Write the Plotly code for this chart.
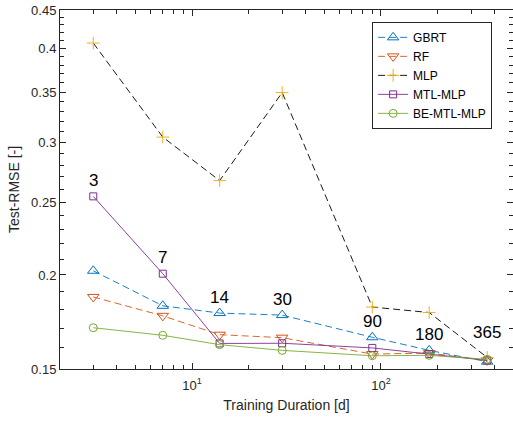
import numpy as np
import plotly.graph_objects as go

durations = [3, 7, 14, 30, 90, 180, 365]
gbrt = [0.2026, 0.182, 0.178, 0.1769, 0.1653, 0.1588, 0.1534]
rf = [0.187, 0.1765, 0.1666, 0.1651, 0.157, 0.1575, 0.154]
mlp = [0.4067, 0.305, 0.267, 0.3495, 0.1813, 0.1783, 0.1554]
mtl_mlp = [0.2544, 0.2008, 0.1622, 0.1623, 0.160, 0.157, 0.154]
be_mtl_mlp = [0.1702, 0.1663, 0.1616, 0.1588, 0.1562, 0.1564, 0.1545]
duration_labels = ["3", "7", "14", "30", "90", "180", "365"]

y_ticks = [0.15, 0.2, 0.25, 0.3, 0.35, 0.4, 0.45]
x_ticks = [10, 100]
x_ticktext = ["10<sup>1</sup>", "10<sup>2</sup>"]

FONT = "Liberation Sans, Arial, sans-serif"
TXT = "#262626"

series = [
    ("GBRT", gbrt, "#0072BD", "triangle-up-open", 10, "7px,4px"),
    ("RF", rf, "#D95319", "triangle-down-open", 10, "7px,4px"),
    ("MLP", mlp, "#000000", "cross-thin-open", 9, "7px,4px"),
    ("MTL-MLP", mtl_mlp, "#7E2F8E", "square-open", 7, "solid"),
    ("BE-MTL-MLP", be_mtl_mlp, "#77AC30", "circle-open", 8, "solid"),
]

fig = go.Figure()
for name, vals, col, sym, sz, dash in series:
    mcol = "#EDB120" if name == "MLP" else col
    fig.add_trace(go.Scatter(
        x=durations, y=vals, name=name, mode="lines+markers",
        line=dict(color=col, width=0.9, dash=dash),
        marker=dict(symbol=sym, size=sz, color=mcol,
                    line=dict(color=mcol, width=1)),
    ))

# duration labels above the cluster of non-MLP series
for i, lab in enumerate(duration_labels):
    top = max(gbrt[i], rf[i], mtl_mlp[i], be_mtl_mlp[i])
    shift = 27 if lab == "365" else 16
    fig.add_annotation(x=np.log10(durations[i]), y=np.log10(top), text=lab,
                       showarrow=False, yshift=shift,
                       font=dict(size=17, color="#000000", family=FONT))

x_minor = [v for d in (1, 10, 100) for v in [k * d for k in range(2, 10)]
           if 2 <= v <= 500 and v not in (10, 100)]
y_minor = [round(0.15 + 0.01 * k, 2) for k in range(31)]
y_minor = [v for v in y_minor if v not in y_ticks]

fig.update_layout(
    width=513, height=421,
    margin=dict(l=60, r=0, t=10, b=52),
    paper_bgcolor="white", plot_bgcolor="white",
    font=dict(family=FONT, size=13, color=TXT),
    showlegend=True,
    legend=dict(x=0.689, y=0.967, xanchor="left", yanchor="top",
                bordercolor="#262626", borderwidth=1, bgcolor="white",
                font=dict(size=12, color="#000000"),
                tracegroupgap=0, itemwidth=30),
)
fig.update_xaxes(
    type="log", range=[np.log10(2), np.log10(500)], automargin=False,
    tickvals=x_ticks, ticktext=x_ticktext, ticklabelstandoff=4,
    ticks="inside", ticklen=6, tickcolor="#262626",
    showline=True, linecolor="#262626", linewidth=1, mirror="allticks",
    showgrid=False, zeroline=False,
    minor=dict(tickvals=x_minor, ticks="inside", ticklen=4, tickcolor="#262626", showgrid=False),
    title=dict(text="Training Duration [d]", font=dict(size=14, color=TXT), standoff=8),
)
fig.update_yaxes(
    type="log", range=[np.log10(0.15), np.log10(0.45)], automargin=False,
    tickvals=y_ticks, ticktext=[f"{v:g}" for v in y_ticks],
    ticks="inside", ticklen=6, tickcolor="#262626",
    showline=True, linecolor="#262626", linewidth=1, mirror="allticks",
    showgrid=False, zeroline=False,
    minor=dict(tickvals=y_minor, ticks="inside", ticklen=4, tickcolor="#262626", showgrid=False),
    title=dict(text="Test-RMSE [-]", font=dict(size=14, color=TXT), standoff=8),
)

fig.write_html("out.html", config={"displayModeBar": False},
               post_script="document.body.style.margin='0px';document.body.style.overflow='hidden';")
